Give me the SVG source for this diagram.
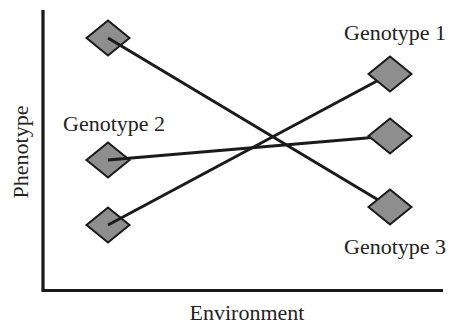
<svg xmlns="http://www.w3.org/2000/svg" width="450" height="325" viewBox="0 0 450 325">
<style>
text{font-family:"Liberation Serif","Times New Roman",serif;font-size:22px;fill:#222}
.axis{stroke:#1a1a1a;stroke-width:3.2;fill:none}
.line{stroke:#1a1a1a;stroke-width:3;fill:none}
.dia{fill:#8e8e8e;stroke:#1a1a1a;stroke-width:2}
</style>
<defs>
<polygon id="d" points="0,-17.5 21.5,0 0,17.5 -21.5,0"/>
</defs>
<g id="axes">
<polyline class="axis" points="43,10 43,290.5 443,290.5"/>
<text id="xlabel" x="247" y="320" text-anchor="middle">Environment</text>
<text id="ylabel" transform="translate(28,152) rotate(-90)" text-anchor="middle">Phenotype</text>
</g>
<g id="left-nodes">
<g id="g3-left"><use href="#d" class="dia" x="108" y="38"/></g>
<g id="g2-left"><use href="#d" class="dia" x="108" y="160"/></g>
<g id="g1-left"><use href="#d" class="dia" x="108" y="225"/></g>
</g>
<g id="connectors">
<line class="line" x1="108" y1="38" x2="390" y2="207"/>
<line class="line" x1="108" y1="160" x2="390" y2="136"/>
<line class="line" x1="108" y1="225" x2="390" y2="74"/>
</g>
<g id="right-nodes">
<g id="g1-right"><use href="#d" class="dia" x="390" y="74"/></g>
<g id="g2-right"><use href="#d" class="dia" x="390" y="136"/></g>
<g id="g3-right"><use href="#d" class="dia" x="390" y="207"/></g>
</g>
<g id="labels">
<text id="lab1" x="344" y="40">Genotype 1</text>
<text id="lab2" x="63" y="131">Genotype 2</text>
<text id="lab3" x="344" y="254">Genotype 3</text>
</g>
</svg>
